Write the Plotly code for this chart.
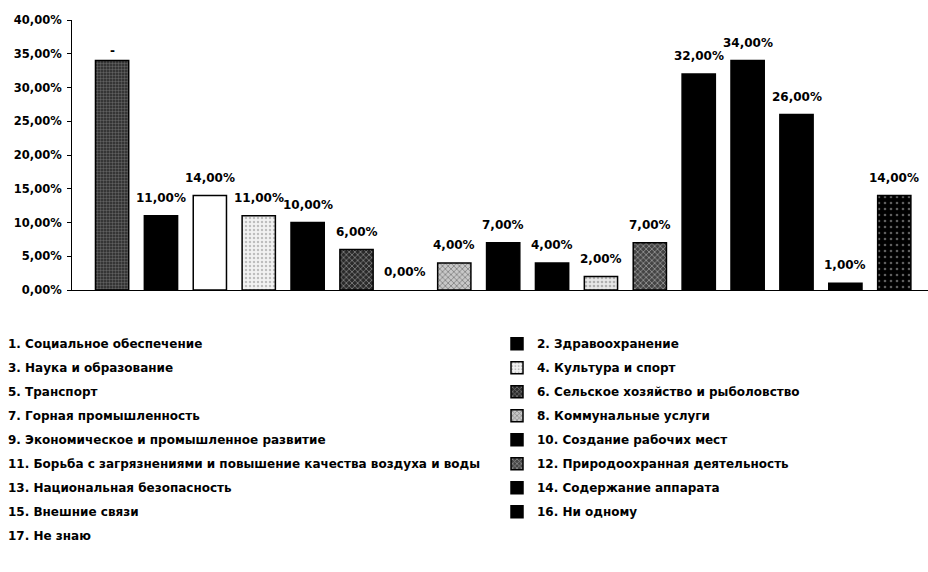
import plotly.graph_objects as go

categories = [
    "1. Социальное обеспечение",
    "2. Здравоохранение",
    "3. Наука и образование",
    "4. Культура и спорт",
    "5. Транспорт",
    "6. Сельское хозяйство и рыболовство",
    "7. Горная промышленность",
    "8. Коммунальные услуги",
    "9. Экономическое и промышленное развитие",
    "10. Создание рабочих мест",
    "11. Борьба с загрязнениями и повышение качества воздуха и воды",
    "12. Природоохранная деятельность",
    "13. Национальная безопасность",
    "14. Содержание аппарата",
    "15. Внешние связи",
    "16. Ни одному",
    "17. Не знаю",
]
values = [0.34, 0.11, 0.14, 0.11, 0.10, 0.06, 0.00, 0.04, 0.07, 0.04,
          0.02, 0.07, 0.32, 0.34, 0.26, 0.01, 0.14]
value_labels = ["-", "11,00%", "14,00%", "11,00%", "10,00%", "6,00%", "0,00%",
                "4,00%", "7,00%", "4,00%", "2,00%", "7,00%", "32,00%",
                "34,00%", "26,00%", "1,00%", "14,00%"]
y_ticks = [0.0, 0.05, 0.10, 0.15, 0.20, 0.25, 0.30, 0.35, 0.40]

# styles (per bar): (fill colour, outline width, pattern dict or None)
styles = [
    ("#2a2a2a", 1.5, dict(shape=".", fgcolor="#9a9a9a", bgcolor="#262626", size=3, solidity=0.5)),
    ("#000000", 1.5, None),
    ("#ffffff", 1.5, None),
    ("#eeeeee", 1.5, dict(shape=".", fgcolor="#8a8a8a", bgcolor="#f2f2f2", size=4, solidity=0.3)),
    ("#000000", 1.5, None),
    ("#333333", 1.5, dict(shape="x", fgcolor="#c8c8c8", bgcolor="#2a2a2a", size=4, solidity=0.4)),
    ("#888888", 0, None),
    ("#bbbbbb", 1.5, dict(shape="x", fgcolor="#444444", bgcolor="#c8c8c8", size=4, solidity=0.4)),
    ("#000000", 1.5, None),
    ("#000000", 1.5, None),
    ("#dddddd", 1.5, dict(shape=".", fgcolor="#777777", bgcolor="#e8e8e8", size=4, solidity=0.35)),
    ("#555555", 1.5, dict(shape="x", fgcolor="#dddddd", bgcolor="#444444", size=4, solidity=0.4)),
    ("#000000", 1.5, None),
    ("#000000", 1.5, None),
    ("#000000", 1.5, None),
    ("#000000", 1.5, None),
    ("#000000", 1.5, dict(shape=".", fgcolor="#bbbbbb", bgcolor="#000000", size=6, solidity=0.15)),
]

FONT = "DejaVu Sans"

fig = go.Figure()
for i, (name, v) in enumerate(zip(categories, values)):
    color, lw, pat = styles[i]
    marker = dict(color=color, line=dict(color="#000000", width=lw))
    if pat is not None:
        marker["pattern"] = pat
    fig.add_trace(go.Bar(
        x=[i + 1], y=[v], name=name, width=0.68,
        marker=marker,
        legend="legend" if i % 2 == 0 else "legend2",
        legendgroup="g%d" % i,
        hoverinfo="skip",
    ))

for i, (v, t) in enumerate(zip(values, value_labels)):
    fig.add_annotation(x=i + 1, y=v, text=t, showarrow=False,
                       yanchor="bottom", yshift=9 if t != "-" else 1,
                       font=dict(family=FONT, size=12, color="#000000",
                                 weight="bold"))

legend_common = dict(
    orientation="v", xanchor="left", yanchor="top", yref="paper",
    font=dict(family=FONT, size=12, color="#000000", weight="bold"),
    bgcolor="rgba(0,0,0,0)", borderwidth=0, tracegroupgap=5,
    itemclick=False, itemdoubleclick=False, maxheight=1000,
)

fig.update_layout(
    width=928, height=572,
    margin=dict(l=72, r=0, t=20, b=282, autoexpand=False),
    paper_bgcolor="#ffffff", plot_bgcolor="#ffffff",
    barmode="overlay",
    separators=", ",
    showlegend=True,
    legend=dict(legend_common, x=-0.1215, y=-0.145),
    legend2=dict(legend_common, x=0.4965, y=-0.145),
    xaxis=dict(range=[0.18, 17.69], showticklabels=False, showgrid=False,
               zeroline=False, showline=True, linecolor="#000000", linewidth=1,
               ticks=""),
    yaxis=dict(range=[0, 0.40], tickvals=y_ticks, tickformat=".2%",
               showgrid=False, zeroline=False, showline=True,
               linecolor="#000000", linewidth=1, ticks="outside", ticklen=4,
               tickcolor="#000000", ticklabelstandoff=3,
               tickfont=dict(family=FONT, size=11.5, color="#000000",
                             weight="bold")),
)

fig.write_html("out.html",
               config={"displayModeBar": False},
               post_script="document.body.style.margin='0';")
